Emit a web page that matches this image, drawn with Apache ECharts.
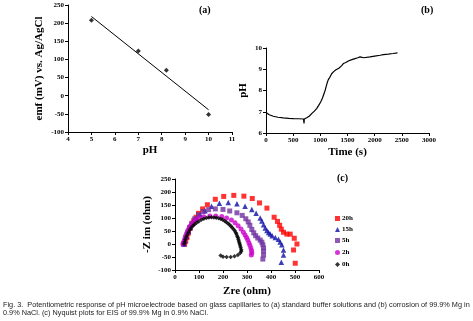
<!DOCTYPE html>
<html>
<head>
<meta charset="utf-8">
<script src="https://cdn.jsdelivr.net/npm/echarts@6/dist/echarts.min.js"></script>
<style>
html,body{margin:0;padding:0;background:#fff;}
#chart{width:473px;height:321px;}
</style>
</head>
<body>
<div id="chart"></div>
<script>
// (a) calibration in standard buffers
const bufferPH = [5, 7, 8.2, 10];
const bufferEmf = [208, 123, 70, -52];

// (b) pH at the Mg surface during corrosion
const timeS = [0, 60, 135, 220, 320, 420, 505, 600, 690, 700, 705, 750, 800, 840, 890, 932, 970, 1006, 1040, 1067, 1090, 1104, 1125, 1147, 1175, 1208, 1250, 1288, 1320, 1340, 1362, 1390, 1423, 1470, 1515, 1580, 1638, 1690, 1730, 1745, 1760, 1800, 1914, 2000, 2100, 2160, 2250, 2340, 2420];
const corrosionPH = [6.96, 6.86, 6.79, 6.74, 6.71, 6.69, 6.68, 6.67, 6.66, 6.45, 6.66, 6.72, 6.8, 6.91, 7.03, 7.15, 7.3, 7.46, 7.65, 7.85, 8.02, 8.16, 8.35, 8.51, 8.62, 8.79, 8.9, 8.98, 9.06, 9.05, 9.14, 9.16, 9.27, 9.32, 9.39, 9.45, 9.5, 9.54, 9.58, 9.5, 9.55, 9.54, 9.58, 9.62, 9.66, 9.69, 9.71, 9.74, 9.77];

// (c) Nyquist data, [Zre, -Zim] in ohm
const nyq20h = [[40,0],[45,12],[50,25],[56,42],[63,60],[70,75],[78,90],[88,103],[98,118],[115,135],[135,151],[168,172],[203,183],[245,187],[287,184],[322,175],[352,158],[383,138],[413,103],[427,87],[436,72],[443,57],[452,45],[466,38],[480,38],[497,22],[508,0],[494,-23],[501,-74]];
const nyq15h = [[38,0],[42,12],[48,30],[56,48],[64,65],[75,82],[88,98],[105,113],[125,128],[152,145],[185,157],[222,160],[258,155],[292,145],[320,133],[338,118],[355,100],[362,88],[369,74],[376,62],[383,52],[390,44],[397,38],[405,32],[418,25],[431,18],[438,8],[445,-3],[452,-23],[452,-42],[443,-70]];
const nyq5h = [[35,0],[40,12],[45,28],[52,45],[60,62],[70,80],[82,97],[98,112],[118,125],[140,132],[168,135],[200,133],[228,127],[258,120],[280,110],[295,97],[305,85],[312,72],[320,56],[328,43],[336,32],[345,23],[355,15],[362,7],[366,-3],[369,-15],[369,-27],[369,-42],[366,-58]];
const nyq2h = [[33,0],[37,10],[42,25],[48,40],[55,55],[62,68],[72,80],[85,92],[100,100],[120,105],[145,108],[170,108],[195,106],[215,100],[235,92],[250,82],[263,70],[275,58],[285,45],[292,35],[298,25],[303,15],[308,5],[312,-5],[316,-15],[319,-25],[320,-35],[318,-42]];
const nyq0h = [[38,0],[40,8],[43,17],[47,27],[51,36],[56,45],[62,55],[68,63],[75,70],[82,76],[90,82],[99,87],[110,93],[120,97],[131,100],[141,102],[152,103],[162,102],[172,101],[182,99],[191,96],[199,93],[207,88],[214,84],[221,79],[227,74],[233,68],[238,63],[244,57],[249,51],[253,44],[256,38],[259,31],[262,25],[264,18],[266,12],[268,5],[270,-1],[272,-8],[274,-14],[276,-22],[276,-28],[272,-35],[262,-42],[248,-47],[232,-50],[215,-50],[200,-49],[190,-44]];

const seriesNames = ['20h', '15h', '5h', '2h', '0h'];
const seriesData = [nyq20h, nyq15h, nyq5h, nyq2h, nyq0h];
const seriesColors = ['#ff0000', '#0d0da8', '#7030a0', '#cc00cc', '#000000'];
const seriesSymbols = ['rect', 'triangle', 'rect', 'circle', 'diamond'];
const seriesSizes = [5, 5.5, 5, 5, 4.5];

const caption1 = 'Fig. 3.  Potentiometric response of pH microelectrode based on glass capillaries to (a) standard buffer solutions and (b) corrosion of 99.9% Mg in';
const caption2 = '0.9% NaCl. (c) Nyquist plots for EIS of 99.9% Mg in 0.9% NaCl.';

// least-squares trendline through the buffer points
function linFit(xs, ys) {
  const n = xs.length;
  const mx = xs.reduce((a, b) => a + b, 0) / n;
  const my = ys.reduce((a, b) => a + b, 0) / n;
  let sxy = 0, sxx = 0;
  for (let i = 0; i < n; i++) { sxy += (xs[i] - mx) * (ys[i] - my); sxx += (xs[i] - mx) ** 2; }
  const k = sxy / sxx;
  return x => my + k * (x - mx);
}
const fit = linFit(bufferPH, bufferEmf);
const xFirst = bufferPH[0], xLast = bufferPH[bufferPH.length - 1];
const trend = [[xFirst, fit(xFirst)], [xLast, fit(xLast)]];

const SERIF = '"Liberation Serif", "Times New Roman", serif';

function axis(grid, min, max, interval, name, gap) {
  return {
    gridIndex: grid, type: 'value', min: min, max: max, interval: interval,
    name: name, nameLocation: 'middle', nameGap: gap,
    nameTextStyle: { fontFamily: SERIF, fontWeight: 'bold', fontSize: 11, color: '#000' },
    axisLine: { show: true, onZero: false, lineStyle: { color: '#000', width: 1 } },
    axisTick: { show: true, length: 3, lineStyle: { color: '#000' } },
    axisLabel: { fontFamily: SERIF, fontWeight: 'bold', fontSize: 7, color: '#000', margin: 4,
                 formatter: v => String(v) },
    splitLine: { show: false }
  };
}

const chart = echarts.init(document.getElementById('chart'), null, { renderer: 'canvas' });

const nyqSeries = seriesNames.map((nm, i) => ({
  name: nm, type: 'scatter', xAxisIndex: 2, yAxisIndex: 2,
  data: seriesData[i], symbol: seriesSymbols[i], symbolSize: seriesSizes[i],
  itemStyle: { color: seriesColors[i] }, silent: true
}));

const legendTops = [210, 221, 232, 244, 256];
const legends = seriesNames.map((nm, i) => ({
  data: [{ name: nm, icon: seriesSymbols[i] }],
  left: 330, top: legendTops[i], itemWidth: 5, itemHeight: 5, itemGap: 0,
  textStyle: { fontFamily: SERIF, fontWeight: 'bold', fontSize: 7, color: '#000', padding: [0, 0, 0, -3] },
  selectedMode: false
}));

chart.setOption({
  animation: false,
  backgroundColor: '#fff',
  grid: [
    { left: 68, top: 5, width: 164, height: 127 },
    { left: 266, top: 48, width: 163, height: 85 },
    { left: 175, top: 179, width: 144, height: 91 }
  ],
  xAxis: [
    axis(0, 4, 11, 1, 'pH', 13),
    axis(1, 0, 3000, 500, 'Time (s)', 14),
    axis(2, 0, 600, 100, 'Zre (ohm)', 16)
  ],
  yAxis: [
    axis(0, -100, 250, 50, 'emf (mV) vs. Ag/AgCl', 23),
    axis(1, 6, 10, 1, 'pH', 17),
    axis(2, -100, 250, 50, '-Z im (ohm)', 22)
  ],
  legend: legends,
  series: [
    { type: 'line', xAxisIndex: 0, yAxisIndex: 0, data: trend, showSymbol: false,
      lineStyle: { color: '#000', width: 1 }, silent: true },
    { type: 'scatter', xAxisIndex: 0, yAxisIndex: 0,
      data: bufferPH.map((x, i) => [x, bufferEmf[i]]),
      symbol: 'diamond', symbolSize: 5, itemStyle: { color: '#000' }, silent: true },
    { type: 'line', xAxisIndex: 1, yAxisIndex: 1,
      data: timeS.map((t, i) => [t, corrosionPH[i]]), showSymbol: false,
      lineStyle: { color: '#000', width: 1.2 }, silent: true }
  ].concat(nyqSeries),
  graphic: [
    { type: 'text', left: 199, top: 5, style: { text: '(a)', font: 'bold 10px ' + SERIF, fill: '#000' } },
    { type: 'text', left: 421, top: 5, style: { text: '(b)', font: 'bold 10px ' + SERIF, fill: '#000' } },
    { type: 'text', left: 337, top: 173, style: { text: '(c)', font: 'bold 10px ' + SERIF, fill: '#000' } },
    { type: 'text', left: 3, top: 301.5, style: { text: caption1, font: '7.3px "Liberation Sans", Arial, sans-serif', fill: '#222' } },
    { type: 'text', left: 3, top: 309, style: { text: caption2, font: '7.3px "Liberation Sans", Arial, sans-serif', fill: '#222' } }
  ]
});
</script>
</body>
</html>
